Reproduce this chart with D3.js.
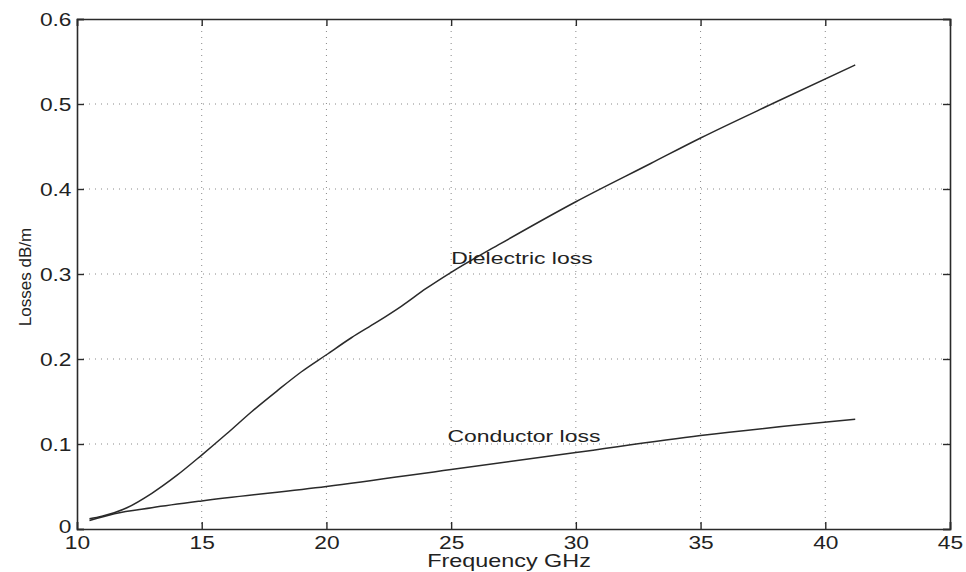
<!DOCTYPE html>
<html>
<head>
<meta charset="utf-8">
<script src="https://cdn.jsdelivr.net/npm/d3@7"></script>
<style>
  body { margin: 0; background: #fff; }
  svg { display: block; font-family: "Liberation Sans", Arial, sans-serif; }
</style>
</head>
<body>
<svg id="chart" width="966" height="572"></svg>
<script>
// Frequency (GHz) samples and the two loss curves (dB/m)
const dielectricFreq = [10.5, 11, 12, 13, 14, 15, 16, 17, 18, 19, 20, 21, 22, 23, 24, 25, 27, 30, 33, 35, 38, 41.2];
const dielectricLoss = [0.012, 0.015, 0.025, 0.042, 0.063, 0.087, 0.112, 0.138, 0.162, 0.185, 0.205, 0.225, 0.243, 0.262, 0.283, 0.302, 0.336, 0.385, 0.430, 0.460, 0.502, 0.546];
const conductorFreq = [10.5, 11.5, 13, 15, 20, 25, 30, 35, 41.2];
const conductorLoss = [0.010, 0.018, 0.025, 0.033, 0.050, 0.070, 0.090, 0.110, 0.129];

const xTicks = [10, 15, 20, 25, 30, 35, 40, 45];
const yTicks = [0, 0.1, 0.2, 0.3, 0.4, 0.5, 0.6];
const yTickLabels = ["0", "0.1", "0.2", "0.3", "0.4", "0.5", "0.6"];

const curveLabels = [
  { text: "Dielectric loss", x: 25.0, y: 0.31 },
  { text: "Conductor loss", x: 24.85, y: 0.1 }
];

const svg = d3.select("#chart");
const plotL = 77, plotR = 950, plotT = 19, plotB = 529;
const wide = 1.3; // horizontal stretch applied to upright text

const x = d3.scaleLinear().domain([10, 45]).range([plotL, plotR]);
const y = d3.scaleLinear().domain([0, 0.6]).range([plotB, plotT]);

const ink = "#2a2a2a";
const grid = svg.append("g");

// dotted grid
grid.selectAll("line.gx").data(xTicks.slice(1, -1)).join("line")
  .attr("x1", d => x(d)).attr("x2", d => x(d))
  .attr("y1", plotT).attr("y2", plotB)
  .attr("stroke", "#888").attr("stroke-width", 1).attr("stroke-dasharray", "1,5");
grid.selectAll("line.gy").data(yTicks.slice(1, -1)).join("line")
  .attr("x1", plotL).attr("x2", plotR)
  .attr("y1", d => y(d)).attr("y2", d => y(d))
  .attr("stroke", "#888").attr("stroke-width", 1).attr("stroke-dasharray", "1,5");

// axes: ticks point inward on all four sides
const tick = 7;
const axBottom = svg.append("g").attr("transform", `translate(0,${plotB})`)
  .call(d3.axisBottom(x).tickValues(xTicks).tickSize(-tick).tickFormat(d3.format("d")));
const axTop = svg.append("g").attr("transform", `translate(0,${plotT})`)
  .call(d3.axisTop(x).tickValues(xTicks).tickSize(-tick).tickFormat(""));
const axLeft = svg.append("g").attr("transform", `translate(${plotL},0)`)
  .call(d3.axisLeft(y).tickValues(yTicks).tickSize(-tick).tickFormat((d, i) => yTickLabels[i]));
const axRight = svg.append("g").attr("transform", `translate(${plotR},0)`)
  .call(d3.axisRight(y).tickValues(yTicks).tickSize(-tick).tickFormat(""));

[axBottom, axTop, axLeft, axRight].forEach(g => {
  g.select(".domain").attr("stroke", ink).attr("stroke-width", 1.6);
  g.selectAll(".tick line").attr("stroke", ink).attr("stroke-width", 1.4);
  g.selectAll(".tick text").attr("fill", "#222").attr("font-size", 17.5)
    .attr("font-family", "'Liberation Sans', Arial, sans-serif");
});
axBottom.selectAll(".tick text")
  .attr("y", 20).attr("dy", null)
  .attr("transform", `scale(${wide},1)`);
axLeft.selectAll(".tick text")
  .attr("x", -5.5 / wide).attr("dy", d => d === 0 ? "0.2em" : "0.36em")
  .attr("transform", `scale(${wide},1)`);

// curves
const line = d3.line().curve(d3.curveMonotoneX);
svg.append("path")
  .attr("d", line(dielectricFreq.map((f, i) => [x(f), y(dielectricLoss[i])])))
  .attr("fill", "none").attr("stroke", ink).attr("stroke-width", 1.5);
svg.append("path")
  .attr("d", line(conductorFreq.map((f, i) => [x(f), y(conductorLoss[i])])))
  .attr("fill", "none").attr("stroke", ink).attr("stroke-width", 1.5);

// curve annotations
svg.selectAll("text.lbl").data(curveLabels).join("text")
  .attr("transform", d => `translate(${x(d.x)},${y(d.y) - 2}) scale(1.35,1)`)
  .attr("font-size", 17).attr("fill", "#222")
  .text(d => d.text);

// axis titles
svg.append("text")
  .attr("transform", `translate(509,567) scale(${wide},1)`)
  .attr("text-anchor", "middle").attr("font-size", 18).attr("fill", "#222")
  .text("Frequency GHz");
svg.append("text")
  .attr("transform", `translate(31,277) rotate(-90)`)
  .attr("text-anchor", "middle").attr("font-size", 17).attr("fill", "#222")
  .text("Losses dB/m");
</script>
</body>
</html>
